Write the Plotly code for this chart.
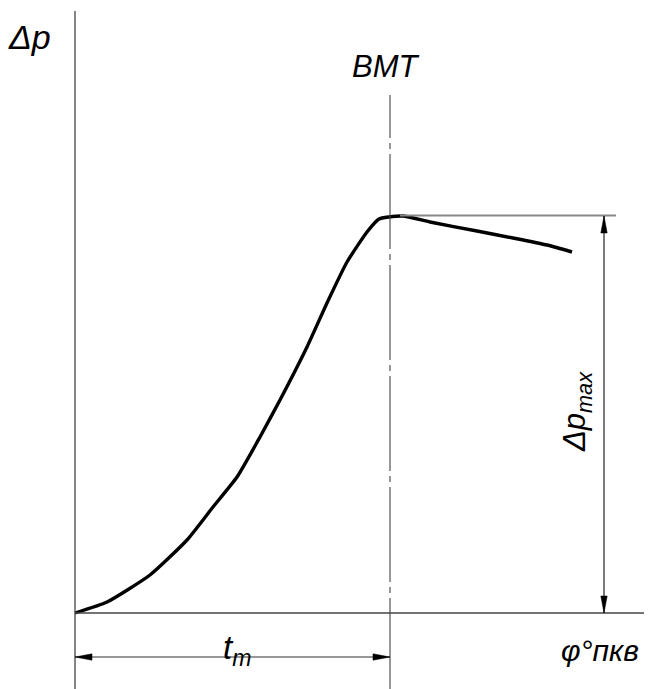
import plotly.graph_objects as go

# Curve data: crank angle (relative units) vs pressure rise (relative units)
phi = [0, 32, 75, 112, 138, 162, 185, 205, 232, 252, 272, 292, 304, 314, 328, 355, 402, 438, 472, 497]
dp = [0, 11, 38, 73, 106, 136, 176, 213, 266, 310, 351, 381, 394, 396, 397, 391, 382, 375, 368, 361]

phi_bmt = 315          # position of ВМТ (top dead centre)
dp_max = max(dp)

labels = {
    "y": "Δp",
    "x": "φ°пкв",
    "bmt": "ВМТ",
    "tm": "t<sub>m</sub>",
    "dpmax": "Δp<sub>max</sub>",
}

FONT = "Liberation Sans Narrow, Liberation Sans, Arial, sans-serif"
AX = "#444444"

fig = go.Figure()
fig.add_trace(go.Scatter(x=phi, y=dp, mode="lines",
                         line=dict(color="black", width=3.4, shape="spline", smoothing=0.5),
                         hoverinfo="skip", showlegend=False))

x_right = 570
y_top = 602
y_bot = -80
dim_y = -44
dim_x = 529

shapes = []
# axes
shapes.append(dict(type="line", x0=0, x1=0, y0=y_bot, y1=y_top, line=dict(color=AX, width=1.3)))
shapes.append(dict(type="line", x0=0, x1=x_right, y0=0, y1=0, line=dict(color=AX, width=1.3)))
# ВМТ centre line
shapes.append(dict(type="line", x0=phi_bmt, x1=phi_bmt, y0=y_bot, y1=518,
                   line=dict(color=AX, width=1.1, dash="95px,5px,6px,5px")))
# horizontal at dp_max
shapes.append(dict(type="line", x0=phi_bmt + 10, x1=dim_x + 12, y0=dp_max + 0.5, y1=dp_max + 0.5,
                   line=dict(color="#888888", width=2)))
# vertical dimension line
shapes.append(dict(type="line", x0=dim_x, x1=dim_x, y0=0, y1=dp_max, line=dict(color="#222222", width=1.2)))
# horizontal dimension line
shapes.append(dict(type="line", x0=0, x1=phi_bmt, y0=dim_y, y1=dim_y, line=dict(color="#333333", width=1.2)))

L, W = 17, 3.2
def tri(p):
    return dict(type="path", path=p, fillcolor="black", line=dict(color="black", width=0.5))
# arrowheads on vertical dimension
shapes.append(tri(f"M {dim_x} {dp_max} L {dim_x - W} {dp_max - L} L {dim_x + W} {dp_max - L} Z"))
shapes.append(tri(f"M {dim_x} 0 L {dim_x - W} {L} L {dim_x + W} {L} Z"))
# arrowheads on horizontal dimension
shapes.append(tri(f"M 0 {dim_y} L {L} {dim_y - W} L {L} {dim_y + W} Z"))
shapes.append(tri(f"M {phi_bmt} {dim_y} L {phi_bmt - L} {dim_y - W} L {phi_bmt - L} {dim_y + W} Z"))

ann_font = dict(family=FONT, size=31, color="black", style="italic")
annotations = [
    dict(x=-46, y=576, text=labels["y"], font=dict(family=FONT, size=34, color="black", style="italic")),
    dict(x=311, y=547, text=labels["bmt"], font=ann_font),
    dict(x=162, y=-37, text=labels["tm"], font=dict(family=FONT, size=33, color="black", style="italic")),
    dict(x=525, y=-37, text=labels["x"], font=dict(family=FONT, size=30, color="black", style="italic")),
    dict(x=502, y=201, text=labels["dpmax"], textangle=-90, font=ann_font),
]
for a in annotations:
    a.update(xref="x", yref="y", showarrow=False, xanchor="center", yanchor="middle")

# page body has an 8px margin: compensate so the drawing lands where the reference has it
fig.update_layout(
    width=644, height=681,
    margin=dict(l=0, r=0, t=0, b=0),
    paper_bgcolor="white", plot_bgcolor="white",
    xaxis=dict(range=[-67, 577], visible=False, fixedrange=True),
    yaxis=dict(range=[-76, 605], visible=False, fixedrange=True),
    shapes=shapes, annotations=annotations,
    showlegend=False,
)
fig.write_html("out.html")
